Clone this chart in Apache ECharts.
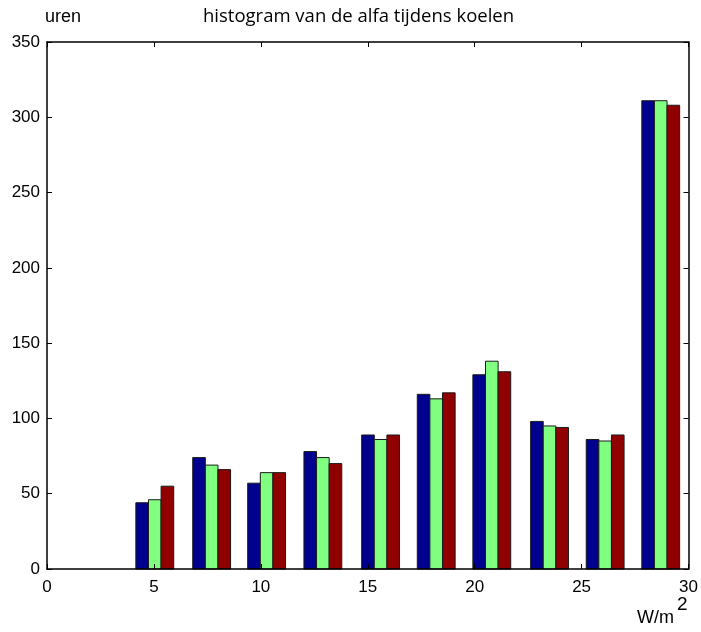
<!DOCTYPE html>
<html>
<head>
<meta charset="utf-8">
<script src="https://cdn.jsdelivr.net/npm/echarts@6/dist/echarts.min.js"></script>
<style>
  html, body { margin: 0; padding: 0; background: #fff; }
  #chart { width: 701px; height: 632px; }
</style>
</head>
<body>
<div id="chart"></div>
<script>
// Bin centres of the histogram (W/m2)
const binCenters = [2.4, 5.04, 7.7, 10.27, 12.9, 15.6, 18.2, 20.8, 23.5, 26.1, 28.7];
// Hours per bin, one array per run
const seriesA = [0, 44, 74, 57, 78, 89, 116, 129, 98, 86, 311];
const seriesB = [0, 46, 69, 64, 74, 86, 113, 138, 95, 85, 311];
const seriesC = [0, 55, 66, 64, 70, 89, 117, 131, 94, 89, 308];
const seriesColors = ['#00008f', '#80ff80', '#900000'];
const xTicks = [0, 5, 10, 15, 20, 25, 30];
const yTicks = [0, 50, 100, 150, 200, 250, 300, 350];

const barW = 0.59; // width of one bar in axis units
const groups = [seriesA, seriesB, seriesC];

const chart = echarts.init(document.getElementById('chart'), null, { renderer: 'canvas' });

const axisFont = { fontFamily: 'Liberation Sans, Arial, sans-serif', fontSize: 17, color: '#000' };

function makeSeries(values, idx) {
  const offset = (idx - 1) * barW;
  return {
    type: 'custom',
    xAxisIndex: 0,
    yAxisIndex: 0,
    data: values.map((v, i) => [binCenters[i], v, offset]),
    renderItem: function (params, api) {
      const v = api.value(1);
      if (v <= 0) return null;
      const c = api.value(0) + api.value(2);
      const p0 = api.coord([c - barW / 2, v]);
      const p1 = api.coord([c + barW / 2, 0]);
      return {
        type: 'rect',
        shape: { x: p0[0], y: p0[1], width: p1[0] - p0[0], height: p1[1] - p0[1] },
        style: { fill: seriesColors[idx], stroke: '#1a1a1a', lineWidth: 1 }
      };
    },
    z: 1
  };
}

const xMin = xTicks[0], xMax = xTicks[xTicks.length - 1];
const yMin = yTicks[0], yMax = yTicks[yTicks.length - 1];

chart.setOption({
  animation: false,
  backgroundColor: '#fff',
  grid: { left: 47, right: 11, top: 42, bottom: 63 },
  xAxis: [
    {
      type: 'value', min: xMin, max: xMax, interval: xTicks[1] - xTicks[0],
      position: 'bottom',
      axisLine: { show: true, onZero: false, lineStyle: { color: '#000', width: 1.5 } },
      axisTick: { show: true, inside: true, length: 5, lineStyle: { color: '#000' } },
      axisLabel: Object.assign({ margin: 10 }, axisFont),
      splitLine: { show: false },
      z: 5
    },
    {
      type: 'value', min: xMin, max: xMax, interval: xTicks[1] - xTicks[0],
      position: 'top',
      axisLine: { show: true, onZero: false, lineStyle: { color: '#000', width: 1.5 } },
      axisTick: { show: true, inside: true, length: 5, lineStyle: { color: '#000' } },
      axisLabel: { show: false },
      splitLine: { show: false }
    }
  ],
  yAxis: [
    {
      type: 'value', min: yMin, max: yMax, interval: yTicks[1] - yTicks[0],
      position: 'left',
      axisLine: { show: true, onZero: false, lineStyle: { color: '#000', width: 1.5 } },
      axisTick: { show: true, inside: true, length: 5, lineStyle: { color: '#000' } },
      axisLabel: Object.assign({ margin: 7 }, axisFont),
      splitLine: { show: false },
      z: 5
    },
    {
      type: 'value', min: yMin, max: yMax, interval: yTicks[1] - yTicks[0],
      position: 'right',
      axisLine: { show: true, onZero: false, lineStyle: { color: '#000', width: 1.5 } },
      axisTick: { show: true, inside: true, length: 5, lineStyle: { color: '#000' } },
      axisLabel: { show: false },
      splitLine: { show: false }
    }
  ],
  graphic: [
    {
      type: 'text', left: 45, top: 8,
      style: { text: 'uren', font: '18px "Liberation Sans", Arial, sans-serif', fill: '#000' }
    },
    {
      type: 'text', left: 203, top: 7,
      style: { text: 'histogram van de alfa tijdens koelen', font: '18.5px "Open Sans", sans-serif', fill: '#000' }
    },
    {
      type: 'text', left: 637, top: 609,
      style: { text: 'W/m', font: '18px "Liberation Sans", Arial, sans-serif', fill: '#000' }
    },
    {
      type: 'text', left: 677, top: 595,
      style: { text: '2', font: '19px "Liberation Sans", Arial, sans-serif', fill: '#000' }
    }
  ],
  series: groups.map(makeSeries)
});
</script>
</body>
</html>
